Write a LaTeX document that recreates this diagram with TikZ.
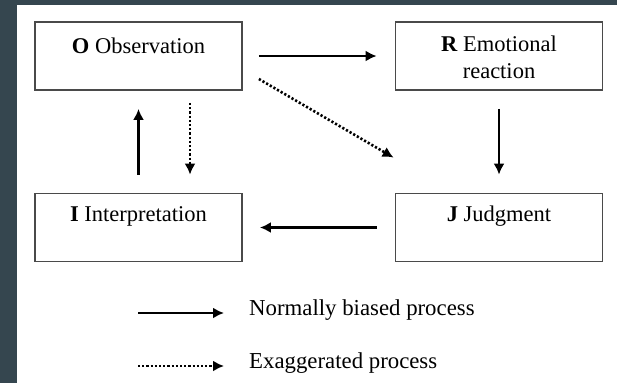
\documentclass[tikz,border=0pt]{standalone}
\usepackage{fontspec}
\setmainfont{Liberation Serif}
\usetikzlibrary{arrows.meta}
\definecolor{slate}{HTML}{35464F}
\definecolor{boxline}{HTML}{4A4A4A}
\tikzset{
  box/.style={draw=boxline, line width=1.8pt, minimum width=207pt, minimum height=68pt, inner sep=0pt},
  lbl/.style={font=\fontsize{22.5}{27}\selectfont, inner sep=0pt, align=center},
  leg/.style={font=\fontsize{22.8}{27}\selectfont, inner sep=0pt, anchor=west},
  solidarr/.style={line width=2.9pt, -{Latex[length=11pt,width=11pt]}},
  dotarr/.style={line width=2.6pt, dash pattern=on 2.2pt off 2pt, -{Latex[length=11pt,width=11pt]}},
}
\begin{document}
\begin{tikzpicture}[x=1pt,y=-1pt]
\useasboundingbox (0,0) rectangle (617,383);
\fill[slate] (0,0) rectangle (617,383);
\fill[white] (17,5) rectangle (617,383);
% boxes
\node[box] (O) at (138.5,56) {};
\node[box] (R) at (499,56) {};
\node[box] (I) at (138.5,227.5) {};
\node[box] (J) at (499,227.5) {};
% texts
\node[lbl] (Ot) at (138.5,46) {\textbf{O} Observation};
\node[lbl] (Rt) at (499,57) {\textbf{R} Emotional\\reaction};
\node[lbl] (It) at (138.5,216) {\textbf{I} Interpretation};
\node[lbl] (Jt) at (499,216) {\textbf{J} Judgment};
% connectors
\draw[solidarr] ([xshift=16pt]O.east) -- ([xshift=-18pt]R.west);
\draw[dotarr] ([shift={(16pt,-23pt)}]O.east) -- ([shift={(-1pt,35pt)}]J.north west);
\draw[solidarr] ([yshift=-18pt]R.south) -- ([yshift=18pt]J.north);
\draw[solidarr] ([xshift=-18pt]J.west) -- ([xshift=17pt]I.east);
\draw[solidarr] ([yshift=18pt]I.north) -- ([yshift=-18pt]O.south);
\draw[dotarr] ([shift={(51.5pt,-12pt)}]O.south) -- ([shift={(51.5pt,18pt)}]I.north);
% legend
\coordinate (l1s) at (138,313);
\coordinate (l1e) at (224,313);
\coordinate (l2s) at (138,366);
\coordinate (l2e) at (224,366);
\draw[solidarr] (l1s) -- (l1e);
\draw[dotarr] (l2s) -- (l2e);
\node[leg] (L1) at (249,310) {Normally biased process};
\node[leg] (L2) at (249,363) {Exaggerated process};
\end{tikzpicture}
\end{document}
